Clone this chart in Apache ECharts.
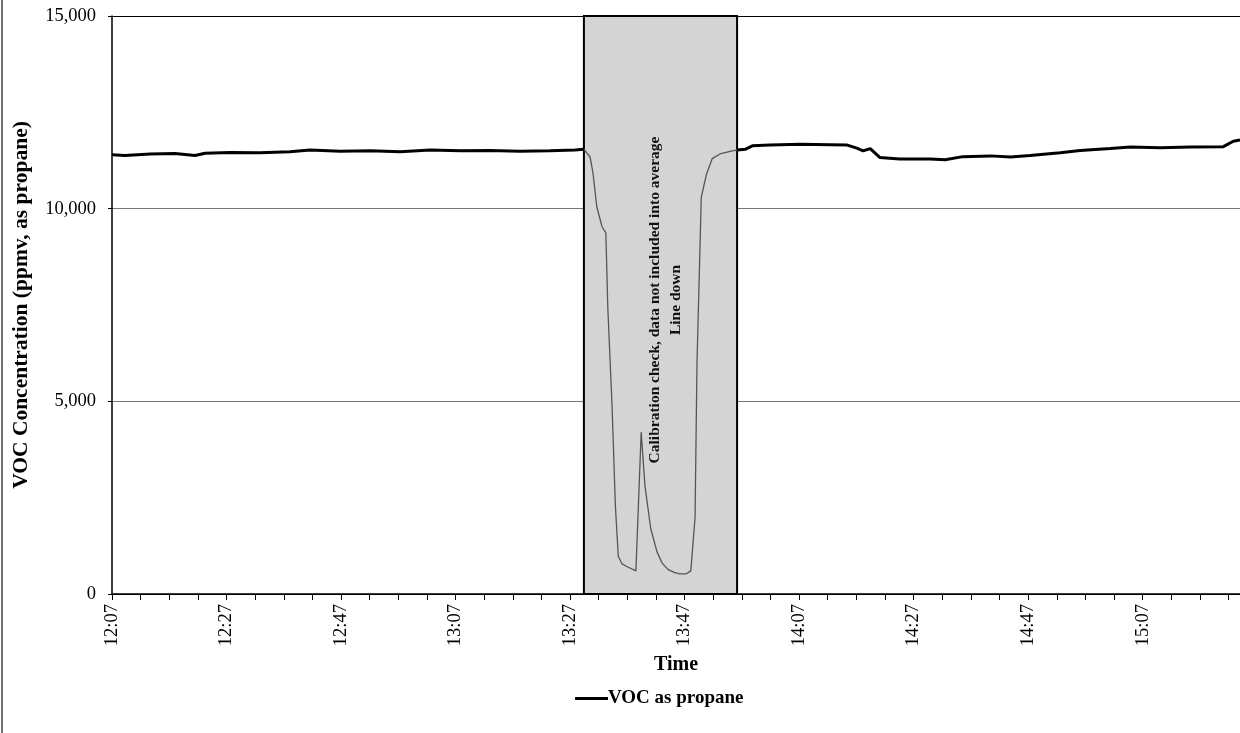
<!DOCTYPE html>
<html>
<head>
<meta charset="utf-8">
<script src="https://cdn.jsdelivr.net/npm/echarts@6/dist/echarts.min.js"></script>
<style>
  html, body { margin: 0; padding: 0; background: #fff; }
  #chart { width: 1240px; height: 733px; }
</style>
</head>
<body>
<div id="chart"></div>
<script>
// readings, time of day (h:mm:ss) and VOC as propane in ppmv
const times = [
  '12:07:00', '12:09:15', '12:13:40', '12:18:00', '12:21:30', '12:23:15', '12:27:35',
  '12:32:50', '12:38:05', '12:41:35', '12:46:50', '12:52:05', '12:57:20', '13:02:35',
  '13:07:50', '13:13:00', '13:18:15', '13:23:30', '13:27:50', '13:29:25',
  '13:30:30', '13:31:00', '13:31:40', '13:32:35', '13:33:15', '13:33:35', '13:34:20',
  '13:34:55', '13:35:25', '13:36:05', '13:37:05', '13:38:30', '13:39:25', '13:40:05',
  '13:41:05', '13:42:10', '13:43:05', '13:44:05', '13:45:10', '13:46:10', '13:47:15',
  '13:48:05', '13:48:50', '13:49:10', '13:49:55', '13:50:50', '13:51:50', '13:53:10',
  '13:55:20', '13:56:10',
  '13:57:35', '13:58:50', '14:01:55', '14:07:10', '14:12:25', '14:15:25', '14:17:05',
  '14:18:10', '14:19:25', '14:21:05', '14:24:35', '14:29:55', '14:32:30', '14:35:35',
  '14:40:25', '14:43:55', '14:47:20', '14:52:35', '14:56:05', '15:01:20', '15:04:50',
  '15:10:05', '15:15:20', '15:21:05', '15:22:50', '15:24:00'
]
const voc = [
  11400, 11380, 11420, 11430, 11380, 11440, 11460,
  11450, 11480, 11520, 11490, 11500, 11480, 11520,
  11500, 11510, 11490, 11500, 11520, 11540,
  11340, 10930, 10050, 9530, 9370, 7460, 4870,
  2275, 980, 780, 700, 600, 4200, 2800,
  1700, 1100, 800, 640, 560, 520, 520,
  600, 2000, 6000, 10300, 10900, 11300, 11420,
  11500, 11520,
  11540, 11630, 11650, 11670, 11660, 11650, 11570,
  11500, 11560, 11330, 11290, 11290, 11270, 11350,
  11370, 11340, 11380, 11450, 11510, 11560, 11600,
  11580, 11600, 11610, 11750, 11780
]
const yTicks = [0, 5000, 10000, 15000]
const calStart = '13:29:25'
const calEnd = '13:56:10'
const calNote = 'Calibration check, data not included into average'
const calNote2 = 'Line down'

const axisStart = '12:07:00'
const axisEnd = '15:24:00'

function toMin(s) {
  const p = s.split(':').map(Number)
  return p[0] * 60 + p[1] + (p[2] || 0) / 60
}
const t0 = toMin(axisStart)
const rel = s => toMin(s) - t0

const c0 = rel(calStart)
const c1 = rel(calEnd)
const main = []
const cal = []
times.forEach((s, i) => {
  const x = rel(s)
  if (x <= c0 || x >= c1) main.push([x, voc[i]])
  if (x >= c0 && x <= c1) cal.push([x, voc[i]])
})
// break the main line across the calibration window
const gapAt = main.findIndex(d => d[0] >= c1)
main.splice(gapAt, 0, [(c0 + c1) / 2, null])

const serif = '"Liberation Serif", "DejaVu Serif", serif'

const chart = echarts.init(document.getElementById('chart'))
chart.setOption({
  animation: false,
  backgroundColor: '#fff',
  textStyle: { fontFamily: serif },
  grid: { left: 112, right: 0, top: 16, bottom: 139 },
  legend: {
    data: ['VOC as propane'],
    left: 570,
    top: 684,
    icon: 'rect',
    itemWidth: 33,
    itemHeight: 3,
    textStyle: { fontFamily: serif, fontSize: 19, fontWeight: 'bold', color: '#000', padding: [0, 0, 0, -5] }
  },
  xAxis: {
    type: 'value',
    min: 0,
    max: rel(axisEnd),
    interval: 20,
    name: 'Time',
    nameLocation: 'middle',
    nameGap: 61,
    nameTextStyle: { fontFamily: serif, fontSize: 20, fontWeight: 'bold', color: '#000' },
    axisLine: { lineStyle: { color: '#000', width: 1.5 } },
    axisTick: { show: true, length: 6, lineStyle: { color: '#000' } },
    minorTick: { show: true, splitNumber: 4, length: 6, lineStyle: { color: '#000' } },
    splitLine: { show: false },
    axisLabel: {
      rotate: 90,
      margin: 10,
      showMaxLabel: false,
      fontFamily: serif,
      fontSize: 18.5,
      color: '#000',
      formatter: v => {
        const m = Math.round(t0 + v)
        return Math.floor(m / 60) + ':' + String(m % 60).padStart(2, '0')
      }
    }
  },
  yAxis: {
    type: 'value',
    min: yTicks[0],
    max: yTicks[yTicks.length - 1],
    interval: yTicks[1] - yTicks[0],
    name: 'VOC Concentration (ppmv, as propane)',
    nameLocation: 'middle',
    nameGap: 80,
    nameTextStyle: { fontFamily: serif, fontSize: 21.5, fontWeight: 'bold', color: '#000' },
    axisLine: { show: true, lineStyle: { color: '#000', width: 1.5 } },
    axisTick: { show: true, length: 4, lineStyle: { color: '#000' } },
    splitLine: { show: true, lineStyle: { color: ['#000', '#777', '#777', '#000'], width: 1 } },
    axisLabel: {
      margin: 16,
      padding: [4, 0, 0, 0],
      fontFamily: serif,
      fontSize: 18.5,
      color: '#000',
      formatter: v => v.toLocaleString('en-US')
    }
  },
  series: [
    {
      name: 'VOC as propane',
      type: 'line',
      data: main,
      showSymbol: false,
      connectNulls: false,
      color: '#000',
      lineStyle: { color: '#000', width: 3 },
      z: 3
    },
    {
      name: 'calibration',
      type: 'line',
      data: cal,
      showSymbol: false,
      color: '#555',
      lineStyle: { color: '#555', width: 1.3 },
      z: 3,
      markArea: {
        silent: true,
        itemStyle: { color: '#d4d4d4', borderColor: '#000', borderWidth: 2 },
        label: {
          show: true,
          position: 'inside',
          rotate: 90,
          offset: [5, 5],
          fontFamily: serif,
          fontSize: 15.5,
          fontWeight: 'bold',
          color: '#111',
          lineHeight: 21,
          align: 'center',
          formatter: calNote + '\n' + calNote2
        },
        data: [[
          { xAxis: c0, yAxis: yTicks[0] },
          { xAxis: c1, yAxis: yTicks[yTicks.length - 1] }
        ]]
      }
    }
  ],
  graphic: [
    { type: 'line', shape: { x1: 2, y1: 0, x2: 2, y2: 733 }, style: { stroke: '#444', lineWidth: 1.5 } }
  ]
})
</script>
</body>
</html>
